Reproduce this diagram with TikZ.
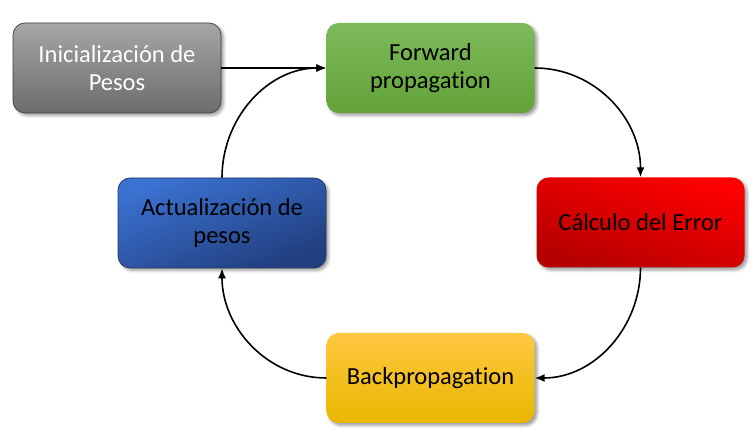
\documentclass[tikz,border=0pt]{standalone}
\usepackage{fontspec}
\setmainfont{Carlito}[Ligatures={NoCommon}]
\usetikzlibrary{arrows.meta}
\usetikzlibrary{shadows.blur}

\tikzset{
  etapa/.style={rounded corners=12pt, minimum width=208pt, minimum height=90pt, inner sep=0pt, align=center,
    font=\fontsize{24.5}{28}\selectfont,
    blur shadow={shadow xshift=2.5pt, shadow yshift=-2.5pt, shadow blur radius=3pt, shadow opacity=40}},
  flecha/.style={line width=1.6pt, -{Latex[length=10pt,width=8pt]}}
}

\begin{document}
\begin{tikzpicture}[x=1pt,y=1pt,yscale=-1,xscale=1]
\useasboundingbox (0,0) rectangle (756,443);

%Box: Inicializacion de Pesos
\node [etapa, draw={rgb, 255:red, 64; green, 64; blue, 64}, line width=0.7pt,
  top color={rgb, 255:red, 166; green, 166; blue, 166}, bottom color={rgb, 255:red, 108; green, 108; blue, 108}, text=white] (ini) at (117,68) {Inicialización de\\Pesos};
%Box: Forward propagation
\node [etapa, top color={rgb, 255:red, 125; green, 186; blue, 92}, bottom color={rgb, 255:red, 99; green, 162; blue, 55}] (fwd) at (430.5,68) {Forward\\propagation};
%Box: Calculo del Error
\node [etapa, top color={rgb, 255:red, 255; green, 0; blue, 0}, middle color={rgb, 255:red, 244; green, 0; blue, 0}, bottom color={rgb, 255:red, 180; green, 0; blue, 0}, shading angle=-18] (err) at (640.5,222.5) {Cálculo del Error};
%Box: Backpropagation
\node [etapa, top color={rgb, 255:red, 255; green, 200; blue, 64}, bottom color={rgb, 255:red, 232; green, 183; blue, 0}] (back) at (430.5,378) {Backpropagation};
%Box: Actualizacion de pesos
\node [etapa, draw={rgb, 255:red, 31; green, 56; blue, 100}, line width=0.7pt,
  top color={rgb, 255:red, 59; green, 113; blue, 208}, bottom color={rgb, 255:red, 33; green, 62; blue, 126}, shading angle=22] (act) at (222,223) {Actualización de\\pesos};

%Arrows
\draw [flecha] (ini.east) -- (fwd.west);
\draw [flecha] (fwd.east) to[out=0, in=-90] (err.north);
\draw [flecha] (err.south) to[out=90, in=0] (back.east);
\draw [flecha] (back.west) to[out=180, in=90] (act.south);
\draw [flecha] (act.north) to[out=-90, in=180] (fwd.west);

\end{tikzpicture}
\end{document}
